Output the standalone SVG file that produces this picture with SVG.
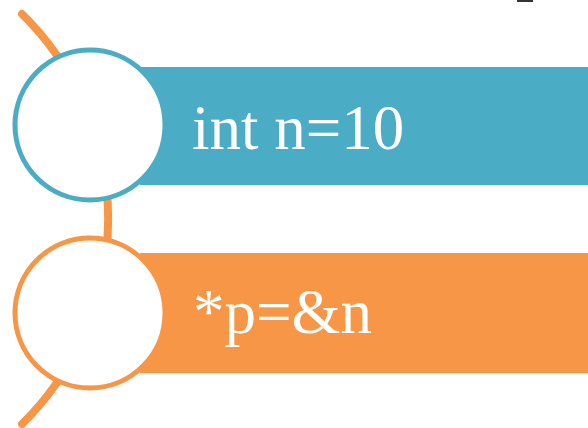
<svg xmlns="http://www.w3.org/2000/svg" width="588" height="428" viewBox="0 0 588 428">
<style>
.lbl{font-family:"Liberation Serif","Times New Roman",serif;font-size:63px;fill:#fff}
.node circle{fill:#fff;stroke-width:5}
</style>
<rect width="588" height="428" fill="#fff"/>
<rect x="517" y="0" width="16" height="2" fill="#333"/>
<g id="connectors">
<path d="M22,14 A287,287 0 0 1 22,424" fill="none" stroke="#F79646" stroke-width="8" stroke-linecap="round"/>
</g>
<g id="node1" class="node">
<rect x="140" y="67" width="448" height="118" fill="#4BACC6"/>
<circle cx="90" cy="125" r="75" stroke="#4BACC6"/>
<text class="lbl" x="192" y="149">int n=10</text>
</g>
<g id="node2" class="node">
<rect x="140" y="253" width="448" height="120" fill="#F79646"/>
<circle cx="90" cy="313" r="75" stroke="#F79646"/>
<text class="lbl" x="193" y="333">*p=&amp;n</text>
</g>
</svg>
